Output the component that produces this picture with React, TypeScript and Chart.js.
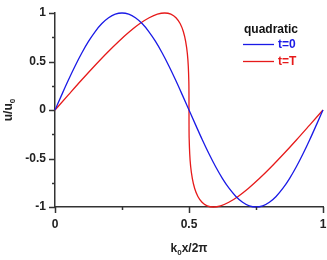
import React, { useEffect, useRef } from "react";
import { Chart, registerables } from "chart.js";
Chart.register(...registerables);

// t=0 : initial profile
const blueX = [0, 0.025, 0.05, 0.075, 0.1, 0.125, 0.15, 0.175, 0.2, 0.225, 0.25, 0.275, 0.3, 0.325, 0.35, 0.375, 0.4, 0.425, 0.45, 0.475, 0.5, 0.525, 0.55, 0.575, 0.6, 0.625, 0.65, 0.675, 0.7, 0.725, 0.75, 0.775, 0.8, 0.825, 0.85, 0.875, 0.9, 0.925, 0.95, 0.975, 1];
const blueU = [0, 0.156, 0.309, 0.454, 0.588, 0.707, 0.809, 0.891, 0.951, 0.988, 1, 0.988, 0.951, 0.891, 0.809, 0.707, 0.588, 0.454, 0.309, 0.156, 0, -0.156, -0.309, -0.454, -0.588, -0.707, -0.809, -0.891, -0.951, -0.988, -1, -0.988, -0.951, -0.891, -0.809, -0.707, -0.588, -0.454, -0.309, -0.156, 0];

// t=T : steepened profile
const redX = [0, 0.0499, 0.0992, 0.1473, 0.1936, 0.2375, 0.2788, 0.3168, 0.3514, 0.3822, 0.4092, 0.4322, 0.4514, 0.4668, 0.4788, 0.4875, 0.4936, 0.4973, 0.4992, 0.4999, 0.5, 0.5001, 0.5008, 0.5027, 0.5064, 0.5125, 0.5212, 0.5332, 0.5486, 0.5678, 0.5908, 0.6178, 0.6486, 0.6832, 0.7212, 0.7625, 0.8064, 0.8527, 0.9008, 0.9501, 1];
const redU = [0, 0.156, 0.309, 0.454, 0.588, 0.707, 0.809, 0.891, 0.951, 0.988, 1, 0.988, 0.951, 0.891, 0.809, 0.707, 0.588, 0.454, 0.309, 0.156, 0, -0.156, -0.309, -0.454, -0.588, -0.707, -0.809, -0.891, -0.951, -0.988, -1, -0.988, -0.951, -0.891, -0.809, -0.707, -0.588, -0.454, -0.309, -0.156, 0];

const xTickLabels = ["0", "", "0.5", "", "1"];
const yTickLabels = ["-1", "", "-0.5", "", "0", "", "0.5", "", "1"];
const legendTitle = "quadratic";
const seriesNames = ["t=0", "t=T"];
const seriesColors = ["#1a1ae6", "#e61a1a"];

const FONT = "'Liberation Sans', Arial, sans-serif";
const AXIS = "#333333";

const decor = {
  id: "decor",
  afterDraw(chart: any) {
    const ctx = chart.ctx;
    const xs = chart.scales.x;
    const ys = chart.scales.y;
    ctx.save();
    ctx.strokeStyle = AXIS;
    ctx.lineWidth = 1.5;
    ys.ticks.forEach((t: any, i: number) => {
      const py = Math.round(ys.getPixelForValue(t.value)) + 0.5;
      const len = yTickLabels[i] ? 6 : 3;
      ctx.beginPath();
      ctx.moveTo(xs.left - len, py);
      ctx.lineTo(xs.left, py);
      ctx.stroke();
    });
    xs.ticks.forEach((t: any, i: number) => {
      const px = Math.round(xs.getPixelForValue(t.value)) + 0.5;
      const len = xTickLabels[i] ? 6 : 3;
      ctx.beginPath();
      ctx.moveTo(px, ys.bottom);
      ctx.lineTo(px, ys.bottom + len);
      ctx.stroke();
    });
    ctx.fillStyle = "#222";
    ctx.textBaseline = "alphabetic";
    const cx = (xs.left + xs.right) / 2;
    const by = 252;
    ctx.font = `bold 12px ${FONT}`;
    const wk = ctx.measureText("k").width;
    ctx.font = `bold 8px ${FONT}`;
    const w0 = ctx.measureText("0").width;
    ctx.font = `bold 12px ${FONT}`;
    const wr = ctx.measureText("x/2π").width;
    const sx = cx - (wk + w0 + wr) / 2;
    ctx.textAlign = "left";
    ctx.fillText("k", sx, by);
    ctx.font = `bold 8px ${FONT}`;
    ctx.fillText("0", sx + wk, by + 3);
    ctx.font = `bold 12px ${FONT}`;
    ctx.fillText("x/2π", sx + wk + w0, by);
    ctx.save();
    ctx.translate(12, ys.getPixelForValue(0));
    ctx.rotate(-Math.PI / 2);
    const wu = ctx.measureText("u/u").width;
    ctx.font = `bold 8px ${FONT}`;
    const wz = ctx.measureText("0").width;
    const ux = -(wu + wz) / 2;
    ctx.font = `bold 12px ${FONT}`;
    ctx.fillText("u/u", ux, 0);
    ctx.font = `bold 8px ${FONT}`;
    ctx.fillText("0", ux + wu, 3);
    ctx.restore();
    ctx.font = `bold 12px ${FONT}`;
    ctx.textBaseline = "middle";
    ctx.fillStyle = "#111";
    ctx.fillText(legendTitle, 244, 30);
    seriesNames.forEach((n, i) => {
      const y = 44 + i * 17;
      ctx.strokeStyle = seriesColors[i];
      ctx.lineWidth = 1.3;
      ctx.beginPath();
      ctx.moveTo(243, y + 0.5);
      ctx.lineTo(274, y + 0.5);
      ctx.stroke();
      ctx.fillStyle = seriesColors[i];
      ctx.fillText(n, 278, y + 1);
    });
    ctx.restore();
  },
};

export default function App() {
  const ref = useRef<HTMLCanvasElement>(null);
  useEffect(() => {
    document.body.style.margin = "0";
    const chart = new Chart(ref.current!, {
      type: "scatter",
      data: {
        datasets: [
          {
            label: seriesNames[0],
            data: blueX.map((x, i) => ({ x, y: blueU[i] })),
            showLine: true,
            borderColor: seriesColors[0],
            borderWidth: 1.3,
            pointRadius: 0,
            cubicInterpolationMode: "monotone",
            clip: 5,
          },
          {
            label: seriesNames[1],
            data: redX.map((x, i) => ({ x, y: redU[i] })),
            showLine: true,
            borderColor: seriesColors[1],
            borderWidth: 1.3,
            pointRadius: 0,
            cubicInterpolationMode: "monotone",
            clip: 5,
          },
        ],
      },
      options: {
        animation: false,
        responsive: false,
        layout: { padding: { top: 13, right: 0, left: 0, bottom: 0 } },
        plugins: { legend: { display: false }, tooltip: { enabled: false } },
        scales: {
          x: {
            type: "linear",
            min: 0,
            max: 1,
            afterFit: (s: any) => { s.height = 53; s.paddingRight = 4; },
            ticks: {
              stepSize: 0.25,
              autoSkip: false,
              maxRotation: 0,
              padding: 4,
              color: "#222",
              font: { family: FONT, size: 12, weight: "bold" },
              callback: (_v: any, i: number) => xTickLabels[i],
            },
            grid: { drawOnChartArea: false, drawTicks: true, tickLength: 6, tickColor: "transparent" },
            border: { display: true, color: AXIS, width: 1.5 },
          },
          y: {
            type: "linear",
            min: -1,
            max: 1,
            afterFit: (s: any) => { s.width = 55; },
            ticks: {
              stepSize: 0.25,
              autoSkip: false,
              padding: 3,
              color: "#222",
              font: { family: FONT, size: 12, weight: "bold" },
              callback: (_v: any, i: number) => yTickLabels[i],
            },
            grid: { drawOnChartArea: false, drawTicks: true, tickLength: 6, tickColor: "transparent" },
            border: { display: true, color: AXIS, width: 1.5 },
          },
        },
      },
      plugins: [decor],
    });
    return () => chart.destroy();
  }, []);
  return <canvas ref={ref} width={327} height={260} style={{ display: "block" }} />;
}
